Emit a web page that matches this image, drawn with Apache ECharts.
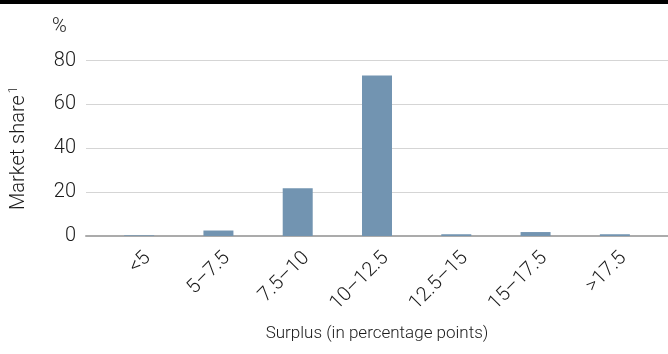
<!DOCTYPE html>
<html><head><meta charset="utf-8">
<script src="https://cdn.jsdelivr.net/npm/echarts@6/dist/echarts.min.js"></script>
<style>html,body{margin:0;padding:0;background:#fff}#c{width:668px;height:354px}</style>
</head><body><div id="c"></div>
<script>
const categories = ['<5', '5–7.5', '7.5–10', '10–12.5', '12.5–15', '15–17.5', '>17.5'];
const marketShare = [0.3, 2.5, 21.8, 73.2, 0.8, 1.8, 0.8];
const yTicks = [0, 20, 40, 60, 80];

const chart = echarts.init(document.getElementById('c'), null, {renderer: 'canvas'});
const font = 'Roboto, "Liberation Sans", sans-serif';
const textColor = '#1a1a1a';
const gTop = 60.5, gBottom = 118;
const labelStyle = {fontFamily: font, fontWeight: 300, color: textColor};
chart.setOption({
  animation: false,
  graphic: [
    {type: 'rect', left: 0, top: 0, shape: {width: 668, height: 4}, style: {fill: '#000'}},
    {type: 'text', left: 52, top: 17, style: {text: '%', font: '300 20px ' + font, fill: textColor}}
  ],
  grid: [
    {left: 80, right: 0, top: gTop, bottom: gBottom, containLabel: false},
    {left: 99.5, width: 555, top: gTop, bottom: gBottom, containLabel: false},
    {left: 108, width: 555, top: gTop, bottom: gBottom, containLabel: false}
  ],
  xAxis: [
    {gridIndex: 0, type: 'category', data: [''], axisLine: {lineStyle: {color: '#ababab', width: 2}}, axisTick: {show: false}, axisLabel: {show: false},
     name: 'Surplus (in percentage points)', nameLocation: 'middle', nameGap: 89,
     nameTextStyle: Object.assign({fontSize: 17}, labelStyle)},
    {gridIndex: 1, type: 'category', data: categories, axisLine: {show: false}, axisTick: {show: false}, axisLabel: {show: false}},
    {gridIndex: 2, type: 'category', data: categories, axisLine: {show: false}, axisTick: {show: false},
     axisLabel: Object.assign({rotate: 45, interval: 0, margin: 19, fontSize: 20}, labelStyle)}
  ],
  yAxis: [
    {gridIndex: 0, type: 'value', min: 0, max: 80, interval: 20,
     axisLine: {show: false}, axisTick: {show: false},
     axisLabel: Object.assign({margin: 10, fontSize: 20, formatter: v => yTicks.includes(v) ? String(v) : ''}, labelStyle),
     splitLine: {lineStyle: {color: '#d5d5d5', width: 1}},
     name: '{a|Market share}{s|1}', nameLocation: 'middle', nameGap: 56, nameRotate: 90,
     nameTextStyle: {rich: {a: Object.assign({fontSize: 20}, labelStyle),
       s: Object.assign({fontSize: 12, verticalAlign: 'top', padding: [0,0,10,2]}, labelStyle)}}},
    {gridIndex: 1, type: 'value', min: 0, max: 80, interval: 20, show: false, splitLine: {show: false}},
    {gridIndex: 2, type: 'value', min: 0, max: 80, interval: 20, show: false, splitLine: {show: false}}
  ],
  series: [{
    type: 'bar', xAxisIndex: 1, yAxisIndex: 1, data: marketShare, barWidth: 30,
    itemStyle: {color: '#7294b1'}
  }]
});
</script></body></html>
